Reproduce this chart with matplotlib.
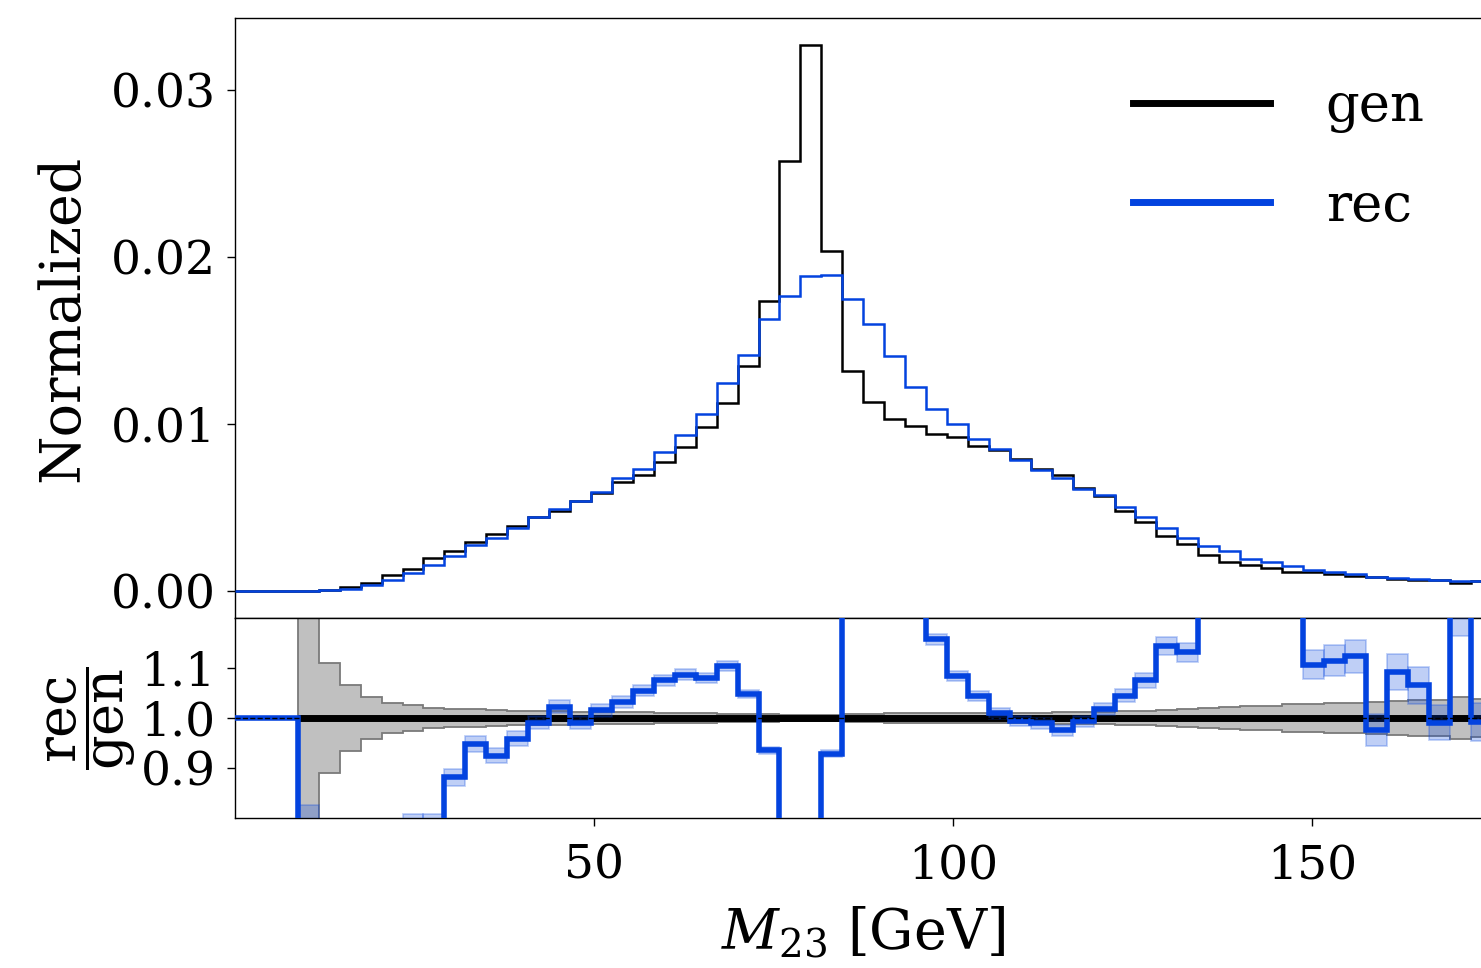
import numpy as np
import matplotlib
matplotlib.use("Agg")
import matplotlib.pyplot as plt
from matplotlib.lines import Line2D

plt.rcParams["font.family"] = ["DejaVu Serif"]
plt.rcParams["mathtext.fontset"] = "dejavuserif"

# Binning of the M23 spectrum: 60 bins over 0-175 GeV
bin_edges = np.linspace(0.0, 175.0, 61)
n_events = 400000

# Normalised (density) histograms per bin
gen = [0.0, 0.0, 0.0, 0.00001, 0.00007, 0.0002, 0.00048, 0.00092, 0.00132, 0.00196,
       0.00238, 0.0029, 0.0034, 0.0039, 0.00443, 0.0048, 0.0054, 0.00585, 0.00653, 0.00693,
       0.0077, 0.0086, 0.0098, 0.01124, 0.01347, 0.01737, 0.02575, 0.03266, 0.02036, 0.01315,
       0.01128, 0.01028, 0.00984, 0.0094, 0.0092, 0.00868, 0.00842, 0.0079, 0.0073, 0.0069,
       0.00615, 0.00565, 0.0048, 0.00409, 0.00329, 0.0028, 0.00216, 0.00175, 0.00155, 0.00138,
       0.00114, 0.0011, 0.001, 0.0009, 0.00082, 0.00072, 0.00066, 0.00066, 0.00048, 0.00058]
rec = [0.0, 0.0, 0.0, 0.000006, 0.000035, 0.00012, 0.000326, 0.000662, 0.001036, 0.001548,
       0.002097, 0.002749, 0.003145, 0.00374, 0.00439, 0.00491, 0.005351, 0.005938, 0.006739, 0.007311,
       0.008278, 0.009348, 0.010584, 0.012409, 0.014117, 0.016241, 0.01766, 0.01886, 0.018914, 0.01749,
       0.015972, 0.014084, 0.012202, 0.010876, 0.009973, 0.009062, 0.008496, 0.007853, 0.00722, 0.006734,
       0.006107, 0.005752, 0.005016, 0.004397, 0.003764, 0.003167, 0.0027, 0.0024, 0.001907, 0.001725,
       0.001459, 0.001217, 0.001115, 0.001011, 0.0008, 0.000786, 0.000703, 0.000654, 0.000581, 0.000575]

labels = ["gen", "rec"]
colors = ["black", "#0343df"]

gen = np.asarray(gen)
rec = np.asarray(rec)
width = np.diff(bin_edges)
centers = 0.5 * (bin_edges[:-1] + bin_edges[1:])

# Poisson uncertainties from the underlying counts
gen_counts = gen * n_events * width
rec_counts = rec * n_events * width
filled = gen > 0
ratio = np.ones_like(gen)
ratio[filled] = rec[filled] / gen[filled]
gen_rel = np.zeros_like(gen)
gen_rel[filled] = 1.0 / np.sqrt(gen_counts[filled])
rec_err = np.zeros_like(rec)
rec_err[rec > 0] = ratio[rec > 0] / np.sqrt(rec_counts[rec > 0])

W, H, DPI = 1481, 968, 100
fig = plt.figure(figsize=(W / DPI, H / DPI), dpi=DPI)

x0 = 235 / W
ax_w = (1491.5 - 235) / W
ax_top = fig.add_axes([x0, 1 - 618 / H, ax_w, 600 / H])
ax_rat = fig.add_axes([x0, 1 - 818 / H, ax_w, 200 / H], sharex=ax_top)

tick_fs = 34
for ax in (ax_top, ax_rat):
    for s in ax.spines.values():
        s.set_linewidth(1.0)
    ax.tick_params(axis="both", labelsize=tick_fs, length=6, width=1.0, pad=8)
ax_rat.tick_params(axis="x", pad=12)

# Upper panel: normalised distributions
ax_top.stairs(gen, bin_edges, color=colors[0], lw=1.8, zorder=2)
ax_top.stairs(rec, bin_edges, color=colors[1], lw=1.8, zorder=3)
ax_top.set_xlim(0, 175)
ymax = max(gen.max(), rec.max())
ax_top.set_ylim(-0.05 * ymax, 1.05 * ymax)
ax_top.set_yticks([0.0, 0.01, 0.02, 0.03])
ax_top.yaxis.set_major_formatter(matplotlib.ticker.FormatStrFormatter("%.2f"))
ax_top.tick_params(axis="x", bottom=False, labelbottom=False)
ax_top.set_ylabel("Normalized", fontsize=40)
ax_top.yaxis.set_label_coords(-0.115, 0.5)

handles = [Line2D([], [], color=c, lw=5) for c in colors]
ax_top.legend(handles, labels, loc="upper left", bbox_to_anchor=(1133 / W, 1 - 81 / H),
              bbox_transform=fig.transFigure, frameon=False, fontsize=38,
              handlelength=2.6, handletextpad=1.05, labelspacing=0.9,
              borderpad=0, borderaxespad=0)

# Lower panel: rec / gen ratio
sl = slice(3, None)
ax_rat.stairs(1 + gen_rel[sl], bin_edges[3:], baseline=1 - gen_rel[sl], fill=True,
              facecolor="#c0c0c0", edgecolor="#7a7a7a", lw=1.3, zorder=1)
ax_rat.stairs(np.ones(len(gen[sl])), bin_edges[3:], baseline=None,
              color="black", lw=5, zorder=2)
has_rec = rec > 0
ax_rat.bar(centers[has_rec], 2 * rec_err[has_rec], bottom=ratio[has_rec] - rec_err[has_rec],
           width=width[has_rec], color=colors[1], alpha=0.25, edgecolor=colors[1],
           linewidth=1.3, zorder=3)
ax_rat.stairs(ratio, bin_edges, baseline=None, color=colors[1], lw=4, zorder=4)
ax_rat.axhline(1.0, color="black", ls="--", lw=1.0, zorder=5)

ax_rat.set_ylim(0.8, 1.2)
ax_rat.set_yticks([0.9, 1.0, 1.1])
ax_rat.yaxis.set_major_formatter(matplotlib.ticker.FormatStrFormatter("%.1f"))
ax_rat.set_xticks([50, 100, 150])
ax_rat.set_ylabel(r"$\dfrac{\mathrm{rec}}{\mathrm{gen}}$", fontsize=39)
ax_rat.yaxis.set_label_coords(-0.077, 0.5)
ax_rat.set_xlabel(r"$M_{23}$ [GeV]", fontsize=40)
ax_rat.xaxis.set_label_coords(0.5, -0.44)

fig.savefig("out.png", dpi=DPI)
